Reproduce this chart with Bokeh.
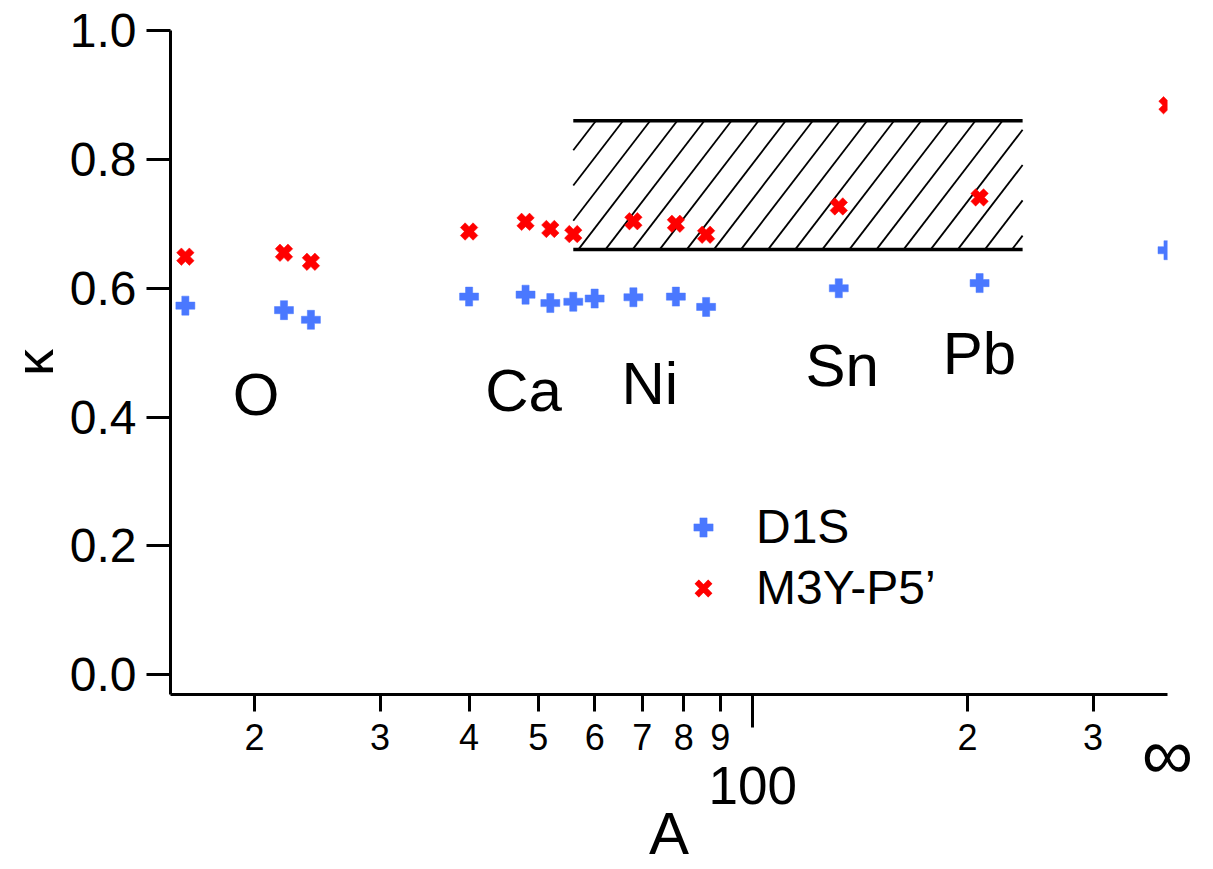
import numpy as np
from bokeh.plotting import figure
from bokeh.models import (Range1d, FixedTicker, Legend, LegendItem, LogAxis,
                          PrintfTickFormatter)
from bokeh.embed import file_html
from bokeh.resources import INLINE
from bokeh.core.properties import value

# ---------------- data ----------------
X_MIN, X_MAX = 15.25, 381.6          # A axis range (log)
Y_MIN, Y_MAX = -0.0305, 1.0          # kappa axis range
INF_POS = 381.6                      # position used for A = infinity

A_d1s = [16, 22, 24, 40, 48, 52, 56, 60, 68, 78, 86, 132, 208, INF_POS]
kappa_d1s = [0.573, 0.566, 0.551, 0.587, 0.590, 0.577, 0.579, 0.584,
             0.586, 0.587, 0.571, 0.600, 0.608, 0.659]

A_m3y = [16, 22, 24, 40, 48, 52, 56, 68, 78, 86, 132, 208, INF_POS]
kappa_m3y = [0.649, 0.655, 0.641, 0.688, 0.703, 0.692, 0.684, 0.704,
             0.700, 0.683, 0.727, 0.741, 0.884]

band_A = [56, 239]
band_kappa = [0.66, 0.86]

element_names = ["O", "Ca", "Ni", "Sn", "Pb"]
element_A = [20.1, 47.7, 71.7, 133.5, 207.9]
element_kappa = [0.435, 0.442, 0.452, 0.480, 0.498]

x_small_ticks = [20, 30, 40, 50, 60, 70, 80, 90, 200, 300]
x_small_labels = ["2", "3", "4", "5", "6", "7", "8", "9", "2", "3"]
x_big_tick = 100
y_ticks = [0.0, 0.2, 0.4, 0.6, 0.8, 1.0]

# ---------------- style ----------------
FONT = "Liberation Sans"
BLUE = "#4A78FF"
RED = "#FF0000"
W, H = 1213, 869
BL, BR, BT, BB = 170, 46, 30, 173
FRAME_W = W - BL - BR
FRAME_H = H - BT - BB

p = figure(width=W, height=H, x_axis_type="log",
           x_range=Range1d(X_MIN, X_MAX), y_range=Range1d(Y_MIN, Y_MAX),
           output_backend="svg", toolbar_location=None,
           min_border_left=BL, min_border_right=BR,
           min_border_top=BT, min_border_bottom=BB)
p.grid.visible = False
p.outline_line_color = None
p.background_fill_color = "white"
p.border_fill_color = "white"

# main x axis: line, ticks, small digit labels
xa = p.xaxis[0]
xa.ticker = FixedTicker(ticks=x_small_ticks, minor_ticks=[x_big_tick])
xa.major_label_overrides = {t: l for t, l in zip(x_small_ticks, x_small_labels)}
xa.major_tick_out = 17
xa.major_tick_in = 0
xa.minor_tick_out = 33
xa.minor_tick_in = 0
xa.axis_line_width = 3
xa.major_tick_line_width = 3
xa.minor_tick_line_width = 3
xa.major_label_text_font = FONT
xa.major_label_text_font_size = "36px"
xa.major_label_text_color = "black"
xa.major_label_standoff = -4


def label_axis(ticks, labels, size, standoff):
    ax = LogAxis(ticker=FixedTicker(ticks=ticks, minor_ticks=[]),
                 axis_line_color=None, major_tick_line_color=None,
                 minor_tick_line_color=None, major_tick_out=0, major_tick_in=0,
                 minor_tick_out=0, minor_tick_in=0,
                 major_label_overrides=dict(zip(ticks, labels)),
                 major_label_text_font=FONT, major_label_text_font_size=size,
                 major_label_text_color="black", major_label_standoff=standoff)
    p.add_layout(ax, "below")
    return ax


# "100" label with the axis title "A" below it
ax100 = label_axis([x_big_tick], ["100"], "53px", 14)
ax100.axis_label = "A"
ax100.axis_label_text_font = FONT
ax100.axis_label_text_font_size = "60px"
ax100.axis_label_text_font_style = "normal"
ax100.axis_label_text_color = "black"
ax100.axis_label_text_line_height = 0.8
ax100.axis_label_standoff = -7

# "∞" label, pulled back up next to the axis end
label_axis([INF_POS], ["∞"], "72px", -156)

# y axis
ya = p.yaxis[0]
ya.ticker = FixedTicker(ticks=y_ticks, minor_ticks=[])
ya.formatter = PrintfTickFormatter(format="%.1f")
ya.major_tick_out = 24
ya.major_tick_in = 0
ya.axis_line_width = 3
ya.major_tick_line_width = 3
ya.major_label_text_font = FONT
ya.major_label_text_font_size = "48px"
ya.major_label_text_color = "black"
ya.major_label_standoff = 10
ya.axis_label = "κ"
ya.axis_label_text_font = FONT
ya.axis_label_text_font_size = "54px"
ya.axis_label_text_font_style = "normal"
ya.axis_label_text_color = "black"
ya.axis_label_standoff = 3

# hatched band
px_per_dec = FRAME_W / (np.log10(X_MAX) - np.log10(X_MIN))
px_per_k = FRAME_H / (Y_MAX - Y_MIN)
Lg, Rg = np.log10(band_A[0]), np.log10(band_A[1])
Wb = (Rg - Lg) * px_per_dec
Hb = (band_kappa[1] - band_kappa[0]) * px_per_k
COT = 0.766      # hatch slope (horizontal px per vertical px)
SPACING = 27.1   # hatch spacing in px
PHASE = 5.0
hx0, hy0, hx1, hy1 = [], [], [], []
k0 = int(np.floor((-Hb * COT - PHASE) / SPACING))
for k in range(k0, int(Wb / SPACING) + 2):
    u0 = PHASE + k * SPACING
    us, vs = u0, 0.0
    if us < 0:
        vs = -u0 / COT
        us = 0.0
    ue, ve = u0 + Hb * COT, Hb
    if ue > Wb:
        ve = (Wb - u0) / COT
        ue = Wb
    if vs < ve and us < Wb:
        hx0.append(10 ** (Lg + us / px_per_dec))
        hx1.append(10 ** (Lg + ue / px_per_dec))
        hy0.append(band_kappa[0] + vs / px_per_k)
        hy1.append(band_kappa[0] + ve / px_per_k)
p.segment(hx0, hy0, hx1, hy1, line_color="black", line_width=1.8)
p.segment([band_A[0], band_A[0]], band_kappa, [band_A[1], band_A[1]], band_kappa,
          line_color="black", line_width=3.5)

# data markers
r_d1s = p.scatter(A_d1s, kappa_d1s, marker="plus", size=19,
                  fill_color=BLUE, line_color=BLUE, line_width=0.5)
r_m3y = p.scatter(A_m3y, kappa_m3y, marker="plus", size=18, angle=np.pi / 4,
                  fill_color=RED, line_color=RED, line_width=0.5)
# legend key for the red cross (legend glyphs are not rotated); no visible data
r_m3y_key = p.scatter([float("nan")], [float("nan")], marker="x", size=18,
                      line_color=RED, line_width=6)

# element labels
p.text(element_A, element_kappa, text=element_names,
       text_font=value(FONT), text_font_size="60px",
       text_align="center", text_baseline="middle", text_color="black")

legend = Legend(items=[LegendItem(label="D1S", renderers=[r_d1s]),
                       LegendItem(label="M3Y-P5’", renderers=[r_m3y_key])],
                location=(509, 79), glyph_width=48, glyph_height=48,
                label_standoff=29, label_text_font=FONT,
                label_text_font_size="48px", label_text_color="black",
                spacing=6, padding=0, margin=0,
                border_line_color=None, background_fill_alpha=0)
p.add_layout(legend)

open("out.html", "w").write(file_html(p, INLINE))
